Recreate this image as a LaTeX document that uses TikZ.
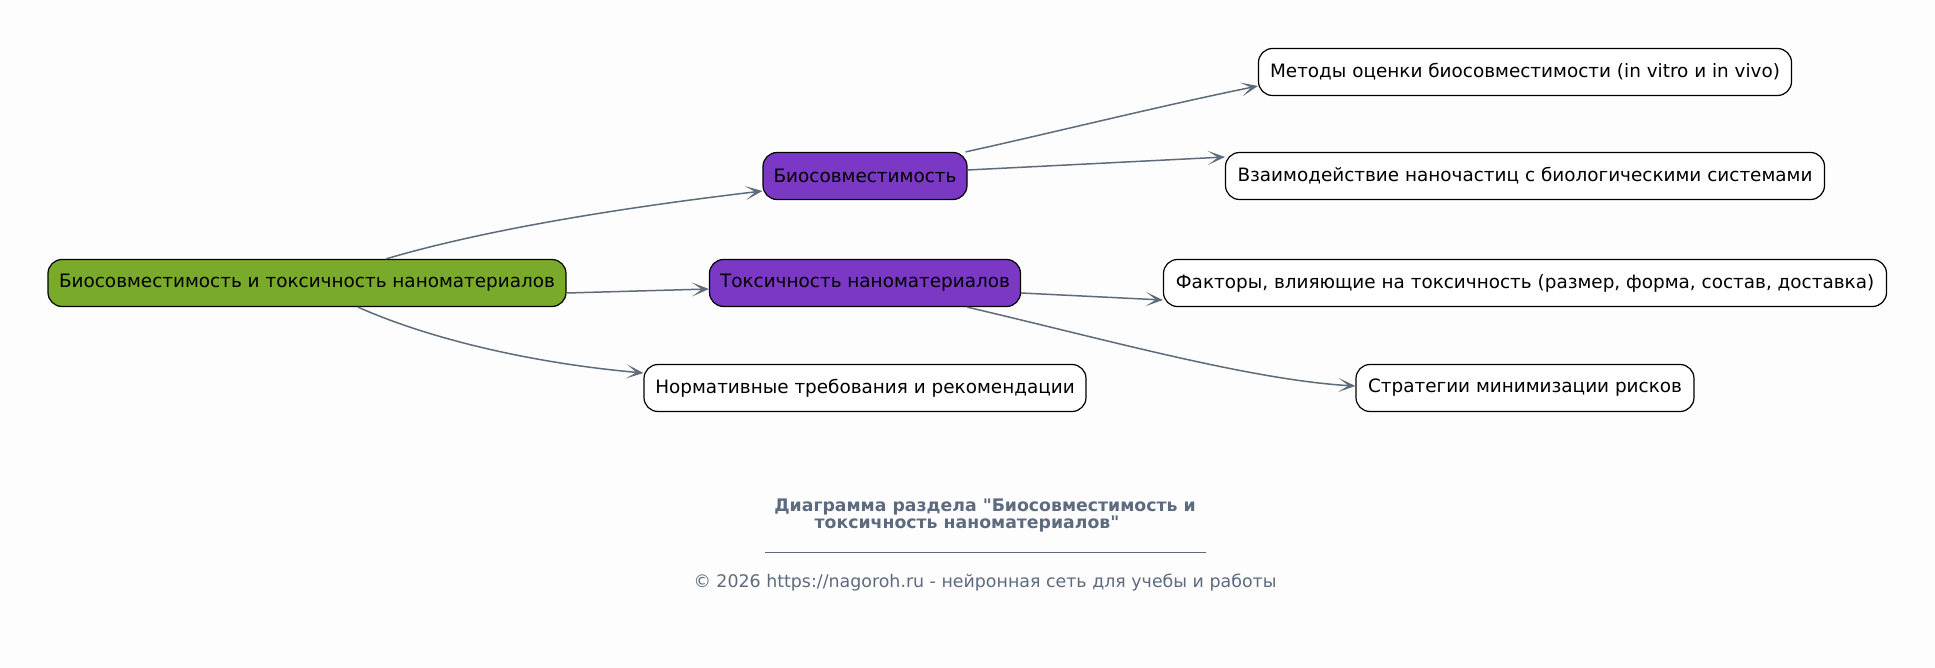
\documentclass[tikz,border=0pt]{standalone}
\usepackage{fontspec}
\setmainfont{DejaVu Sans}[Ligatures=TeXOff]
\usetikzlibrary{arrows.meta}
\definecolor{bgc}{HTML}{FDFDFD}
\definecolor{rootc}{HTML}{7AAA2B}
\definecolor{purp}{HTML}{7B38C4}
\definecolor{edgec}{HTML}{5E6B7B}
\definecolor{titc}{HTML}{5C6B7E}
\tikzset{
  box/.style={draw=black, line width=1.2pt, rounded corners=14pt, minimum height=47pt,
    inner sep=0pt, font=\fontsize{18.4}{22}\selectfont, text=black},
  rootbox/.style={box, fill=rootc},
  midbox/.style={box, fill=purp},
  leafbox/.style={box, fill=white},
  conn/.style={draw=edgec, line width=1.5pt, -{Stealth[length=17pt,width=14pt,inset=10pt]}},
  ttl/.style={font=\fontsize{17.3}{20}\selectfont\bfseries, text=titc, inner sep=0pt},
  foot/.style={font=\fontsize{17.4}{20}\selectfont, text=titc, inner sep=0pt}
}
\begin{document}
\begin{tikzpicture}[x=1pt,y=-1pt]
\fill[bgc] (0,0) rectangle (1935,668);
\useasboundingbox (0,0) rectangle (1935,668);
\node[rootbox, minimum width=518pt] (root) at (307,283) {Биосовместимость и токсичность наноматериалов};
\node[midbox, minimum width=204pt] (bio) at (865,176) {Биосовместимость};
\node[midbox, minimum width=311pt] (tox) at (865,283) {Токсичность наноматериалов};
\node[leafbox, minimum width=442pt] (norm) at (865,388) {Нормативные требования и рекомендации};
\node[leafbox, minimum width=533pt] (meth) at (1525,72) {Методы оценки биосовместимости (in vitro и in vivo)};
\node[leafbox, minimum width=599pt] (vz) at (1525,176) {Взаимодействие наночастиц с биологическими системами};
\node[leafbox, minimum width=723pt] (fact) at (1525,283) {Факторы, влияющие на токсичность (размер, форма, состав, доставка)};
\node[leafbox, minimum width=338pt] (strat) at (1525,388) {Стратегии минимизации рисков};

\draw[conn] ([xshift=79pt]root.north) .. controls (450,240) and (560,215) .. ([yshift=-15pt]bio.west);
\draw[conn] ([yshift=-10pt]root.east) -- ([yshift=-6pt]tox.west);
\draw[conn] ([xshift=51pt]root.south) .. controls (420,335) and (520,362) .. ([yshift=15pt]norm.west);
\draw[conn] ([xshift=-2pt]bio.north east) .. controls (1060,131) and (1160,106) .. ([yshift=-14pt]meth.west);
\draw[conn] ([yshift=6pt]bio.east) -- ([yshift=19pt]vz.west);
\draw[conn] ([yshift=-10pt]tox.east) -- ([yshift=-17pt]fact.west);
\draw[conn] ([xshift=102pt]tox.south) .. controls (1100,338) and (1250,380) .. ([yshift=2pt]strat.west);

\node[ttl] (t1) at (985,507) {Диаграмма раздела "Биосовместимость и};
\node[ttl] (t2) at (967,524) {токсичность наноматериалов"};
\coordinate (r1) at (765,552);
\coordinate (r2) at (1206,552);
\draw[titc, line width=0.8pt] (r1) -- (r2);
\node[foot] (cp) at (985,583) {© 2026 https://nagoroh.ru - нейронная сеть для учебы и работы};
\end{tikzpicture}
\end{document}
